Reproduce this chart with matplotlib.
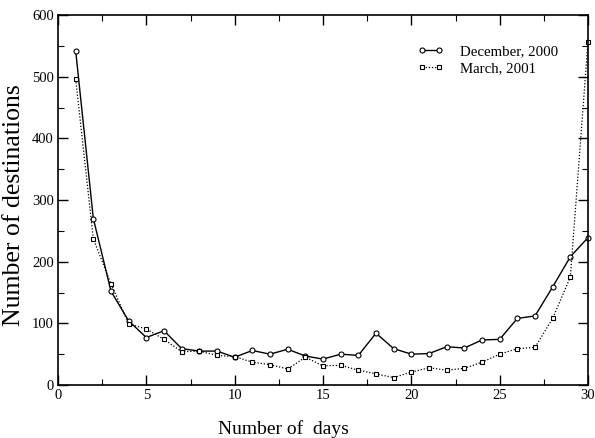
import matplotlib
matplotlib.use("Agg")
import matplotlib.pyplot as plt
from matplotlib.ticker import MultipleLocator

days = list(range(1, 31))
december = [542, 270, 152, 104, 77, 88, 59, 55, 55, 45, 56, 50, 58, 47, 42,
            50, 48, 84, 59, 50, 51, 62, 60, 73, 74, 108, 112, 159, 208, 239]
march = [496, 237, 164, 99, 91, 74, 54, 55, 48, 46, 37, 33, 26, 45, 31,
         32, 24, 18, 12, 21, 28, 24, 27, 37, 50, 59, 61, 108, 175, 557]

plt.rcParams['font.family'] = ['Liberation Serif', 'DejaVu Serif']

fig = plt.figure(figsize=(5.95, 4.38), dpi=100)
ax = fig.add_axes([58/595, 1-385/438, 530/595, 370/438])

ax.plot(days, december, color='black', lw=1.0, ls='-', marker='o', ms=3.6,
        mfc='white', mec='black', mew=0.8, label='December, 2000', clip_on=False)
ax.plot(days, march, color='black', lw=0.9, ls=(0, (1, 1.5)), marker='s', ms=3.1,
        mfc='white', mec='black', mew=0.8, label='March, 2001', clip_on=False)

ax.set_xlim(0, 30)
ax.set_ylim(0, 600)
ax.xaxis.set_major_locator(MultipleLocator(5))
ax.xaxis.set_minor_locator(MultipleLocator(2.5))
ax.yaxis.set_major_locator(MultipleLocator(100))
ax.yaxis.set_minor_locator(MultipleLocator(50))
ax.tick_params(which='both', direction='in', top=True, right=True, labelsize=10.5, pad=3)
ax.tick_params(which='major', length=7, width=1)
ax.tick_params(which='minor', length=4, width=0.8)
for s in ax.spines.values():
    s.set_linewidth(1.2)

ax.set_xlabel('Number of  days', fontsize=14, labelpad=12)
ax.xaxis.set_label_coords(0.426, -0.095, transform=ax.transAxes)
ax.xaxis.label.set_verticalalignment('top')
ax.set_ylabel('Number of destinations', fontsize=18.5, labelpad=5)
ax.yaxis.set_label_coords(-0.062, 0.486, transform=ax.transAxes)
ax.yaxis.label.set_verticalalignment('bottom')

ax.legend(loc='upper right', bbox_to_anchor=(0.968, 0.955), frameon=False, fontsize=10.7,
          numpoints=2, handlelength=1.75, handletextpad=1.05, labelspacing=0.25)

fig.savefig('out.png', dpi=100)
